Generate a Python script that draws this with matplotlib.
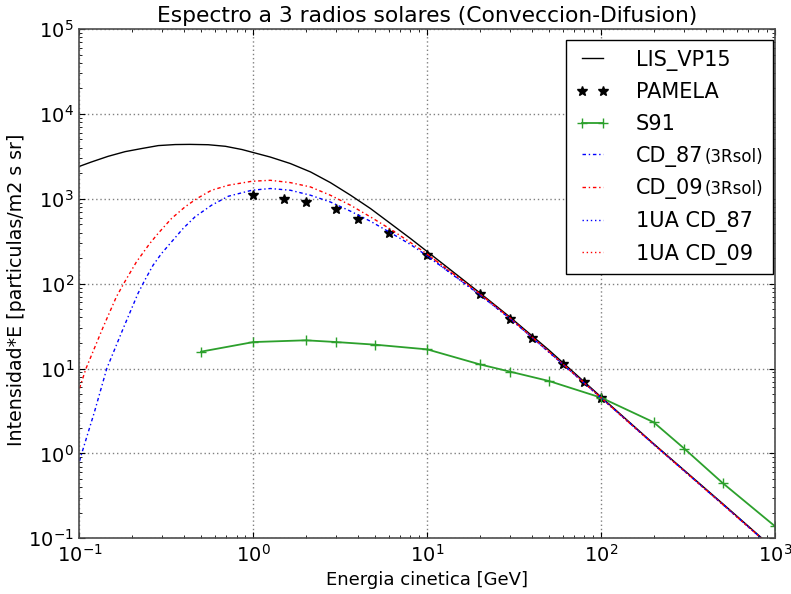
import matplotlib
matplotlib.use("Agg")
import matplotlib.pyplot as plt
from matplotlib.offsetbox import TextArea, HPacker

plt.rcParams.update({
    "font.family": ["DejaVu Sans"],
    "axes.unicode_minus": False,
    "lines.dashdot_pattern": [2.5, 2, 1, 2],
    "lines.dotted_pattern": [1, 2],
    "lines.scale_dashes": False,
    "xtick.direction": "in",
    "ytick.direction": "in",
    "xtick.top": True,
    "ytick.right": True,
    "xtick.major.size": 4,
    "ytick.major.size": 4,
    "xtick.minor.size": 2,
    "ytick.minor.size": 2,
    "xtick.major.pad": 4,
    "ytick.major.pad": 4,
})

# LIS_VP15
lis_E = [0.1, 0.117, 0.146, 0.183, 0.227, 0.284, 0.355, 0.43, 0.55, 0.69,
         0.86, 1.0, 1.25, 1.63, 2.13, 2.77, 3.62, 4.71, 6.14, 8.0, 10, 13.5,
         20, 30, 50, 100, 200, 500, 1000]
lis_I = [2410, 2710, 3160, 3590, 3900, 4230, 4350, 4370, 4330, 4150,
         3800, 3500, 3100, 2600, 2070, 1550, 1100, 767, 511, 340, 238, 147,
         78, 40, 16.5, 4.6, 1.3, 0.255, 0.073]

# PAMELA
pam_E = [1, 1.5, 2, 3, 4, 6, 10, 20, 30, 40, 60, 80, 100]
pam_I = [1100, 1000, 925, 767, 585, 400, 216, 75, 38, 23, 11.4, 6.9, 4.53]

# S91
s91_E = [0.5, 1, 2, 3, 5, 10, 20, 30, 50, 100, 200, 300, 500, 1000]
s91_I = [15.8, 20.5, 21.5, 20.5, 19.1, 16.8, 11.2, 9.17, 7.13, 4.53, 2.33,
         1.14, 0.446, 0.138]

# CD_87 (3Rsol)
cd87_E = [0.1, 0.103, 0.122, 0.1435, 0.180, 0.217, 0.2375, 0.265, 0.296,
          0.338, 0.394, 0.461, 0.574, 0.717, 0.98, 1.25, 1.63, 2.13, 2.77,
          3.62, 4.71, 6.14, 8.0, 10, 20, 30, 50, 100, 200, 500, 1000]
cd87_I = [0.81, 1.0, 3.1, 10, 31, 76.7, 110, 165, 226,
          310, 446, 611, 838, 1070, 1260, 1320, 1260, 1100, 916,
          713, 543, 398, 289, 212, 74, 38.5, 15.6, 4.5, 1.28, 0.25, 0.072]

# CD_09 (3Rsol)
cd09_E = [0.1, 0.109, 0.137, 0.163, 0.182, 0.2124, 0.2535, 0.283, 0.338,
          0.404, 0.471, 0.574, 0.717, 0.98, 1.25, 1.63, 2.13, 2.77, 3.62,
          4.71, 6.14, 8.0, 10, 20, 30, 50, 100, 200, 500, 1000]
cd09_I = [5.85, 10, 31, 70, 105, 180, 297, 390, 585,
          801, 1000, 1259, 1442, 1607, 1650, 1550, 1377, 1100, 838,
          611, 438, 305, 222, 76, 39, 15.8, 4.5, 1.28, 0.25, 0.072]

# 1UA curves
ua87_E = [10, 20, 30, 50, 100, 200, 500, 1000]
ua87_I = [212, 74, 38.5, 15.6, 4.5, 1.28, 0.25, 0.072]
ua09_E = [10, 20, 30, 50, 100, 200, 500, 1000]
ua09_I = [222, 76, 39, 15.8, 4.5, 1.28, 0.25, 0.072]

SMALL = "(3Rsol)"

fig = plt.figure(figsize=(7.91, 5.94), dpi=100, facecolor="white")
ax = fig.add_axes([0.1005, 0.0938, 0.8795, 0.8574])

ax.plot(lis_E, lis_I, color="black", lw=1, label="LIS_VP15")
ax.plot(pam_E, pam_I, ls="none", marker="*", color="black", ms=7,
        label="PAMELA")
ax.plot(s91_E, s91_I, color="#2ca02c", lw=1.3, marker="+", ms=7,
        mew=1, label="S91")
ax.plot(cd87_E, cd87_I, color="blue", lw=1, ls="-.", label="CD_87")
ax.plot(cd09_E, cd09_I, color="red", lw=1, ls="-.", label="CD_09")
ax.plot(ua87_E, ua87_I, color="blue", lw=1, ls=":", label="1UA CD_87")
ax.plot(ua09_E, ua09_I, color="red", lw=1, ls=":", label="1UA CD_09")

ax.set_xscale("log")
ax.set_yscale("log")
ax.set_xlim(0.1, 1000)
ax.set_ylim(0.1, 1e5)
ax.grid(True, which="major", ls=":", color="0.5", lw=1)
ax.tick_params(labelsize=14)
for s in ax.spines.values():
    s.set_linewidth(1.2)
    s.set_color("0.3")

ax.set_title("Espectro a 3 radios solares (Conveccion-Difusion)",
             fontsize=15.7, pad=5)
ax.set_xlabel("Energia cinetica [GeV]", fontsize=13)
ax.set_ylabel("Intensidad*E [particulas/m2 s sr]", fontsize=13.7,
              labelpad=1.5)
ax.yaxis.label.set_y(0.488)

leg = ax.legend(loc="upper right", bbox_to_anchor=(0.997, 0.978),
                borderaxespad=0, fontsize=15, numpoints=2, fancybox=False,
                framealpha=1, borderpad=0.45, labelspacing=0.56,
                handlelength=1.6, handletextpad=1.3)
leg.get_frame().set_edgecolor("black")
leg.get_frame().set_linewidth(1)

ok = False
try:
    for col in leg._legend_handle_box.get_children():
        for item in col.get_children():
            kids = item.get_children()
            ta = kids[1]
            if isinstance(ta, TextArea) and ta.get_text() in ("CD_87", "CD_09"):
                small = TextArea(SMALL, textprops=dict(fontsize=12,
                                                       color="black"))
                box = HPacker(children=[ta, small], pad=0, sep=1,
                              align="baseline")
                box.set_figure(fig)
                kids[1] = box
                ok = True
except Exception:
    ok = False
if not ok:
    for t in leg.get_texts():
        if t.get_text() in ("CD_87", "CD_09"):
            t.set_text(t.get_text() + SMALL)

fig.savefig("out.png", dpi=100, facecolor="white")
